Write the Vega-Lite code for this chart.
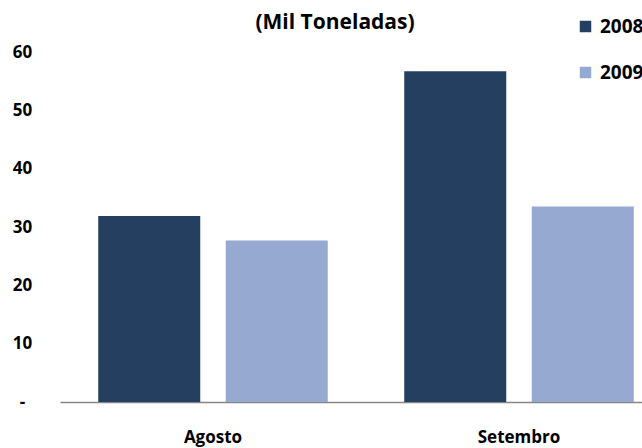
{
  "$schema": "https://vega.github.io/schema/vega-lite/v6.json",
  "width": 582,
  "height": 350,
  "autosize": {"type": "none"},
  "padding": {"left": 60, "top": 52, "right": 0, "bottom": 46},
  "background": "white",
  "title": {
    "text": "(Mil Toneladas)",
    "font": "Open Sans",
    "fontSize": 21,
    "fontWeight": "bold",
    "color": "#000000",
    "anchor": "middle",
    "dx": -16,
    "offset": -16
  },
  "data": {
    "values": [
      {"mes": "Agosto", "ano": "2008", "valor": 31.9},
      {"mes": "Agosto", "ano": "2009", "valor": 27.7},
      {"mes": "Setembro", "ano": "2008", "valor": 56.7},
      {"mes": "Setembro", "ano": "2009", "valor": 33.5}
    ]
  },
  "mark": {"type": "bar"},
  "encoding": {
    "x": {
      "field": "mes",
      "type": "nominal",
      "sort": ["Agosto", "Setembro"],
      "scale": {"range": [0, 612], "paddingInner": 0.25, "paddingOuter": 0.125},
      "axis": {
        "title": null,
        "labelAngle": 0,
        "ticks": false,
        "domainColor": "#868686",
        "domainWidth": 1.5,
        "labelFont": "Open Sans",
        "labelFontSize": 17,
        "labelFontWeight": "bold",
        "labelColor": "#000000",
        "labelPadding": 27
      }
    },
    "xOffset": {
      "field": "ano",
      "type": "nominal",
      "scale": {"paddingInner": 0.2, "paddingOuter": 0}
    },
    "y": {
      "field": "valor",
      "type": "quantitative",
      "scale": {"domain": [0, 60], "nice": false},
      "axis": {
        "title": null,
        "grid": false,
        "domain": false,
        "ticks": false,
        "values": [0, 10, 20, 30, 40, 50, 60],
        "labelExpr": "datum.value == 0 ? '-' : datum.label",
        "labelAlign": "center",
        "labelBaseline": "middle",
        "labelPadding": 38,
        "labelFont": "Open Sans",
        "labelFontSize": 17,
        "labelFontWeight": "bold",
        "labelColor": "#000000"
      }
    },
    "color": {
      "field": "ano",
      "type": "nominal",
      "scale": {"domain": ["2008", "2009"], "range": ["#243F60", "#95A9D1"]},
      "legend": {
        "title": null,
        "orient": "none",
        "legendX": 516,
        "legendY": -35,
        "symbolType": "square",
        "symbolSize": 132,
        "symbolStrokeWidth": 0,
        "labelFont": "Open Sans",
        "labelFontSize": 19,
        "labelFontWeight": "bold",
        "labelColor": "#000000",
        "labelOffset": 5,
        "rowPadding": 26,
        "padding": 0
      }
    }
  },
  "config": {"view": {"stroke": null}}
}
